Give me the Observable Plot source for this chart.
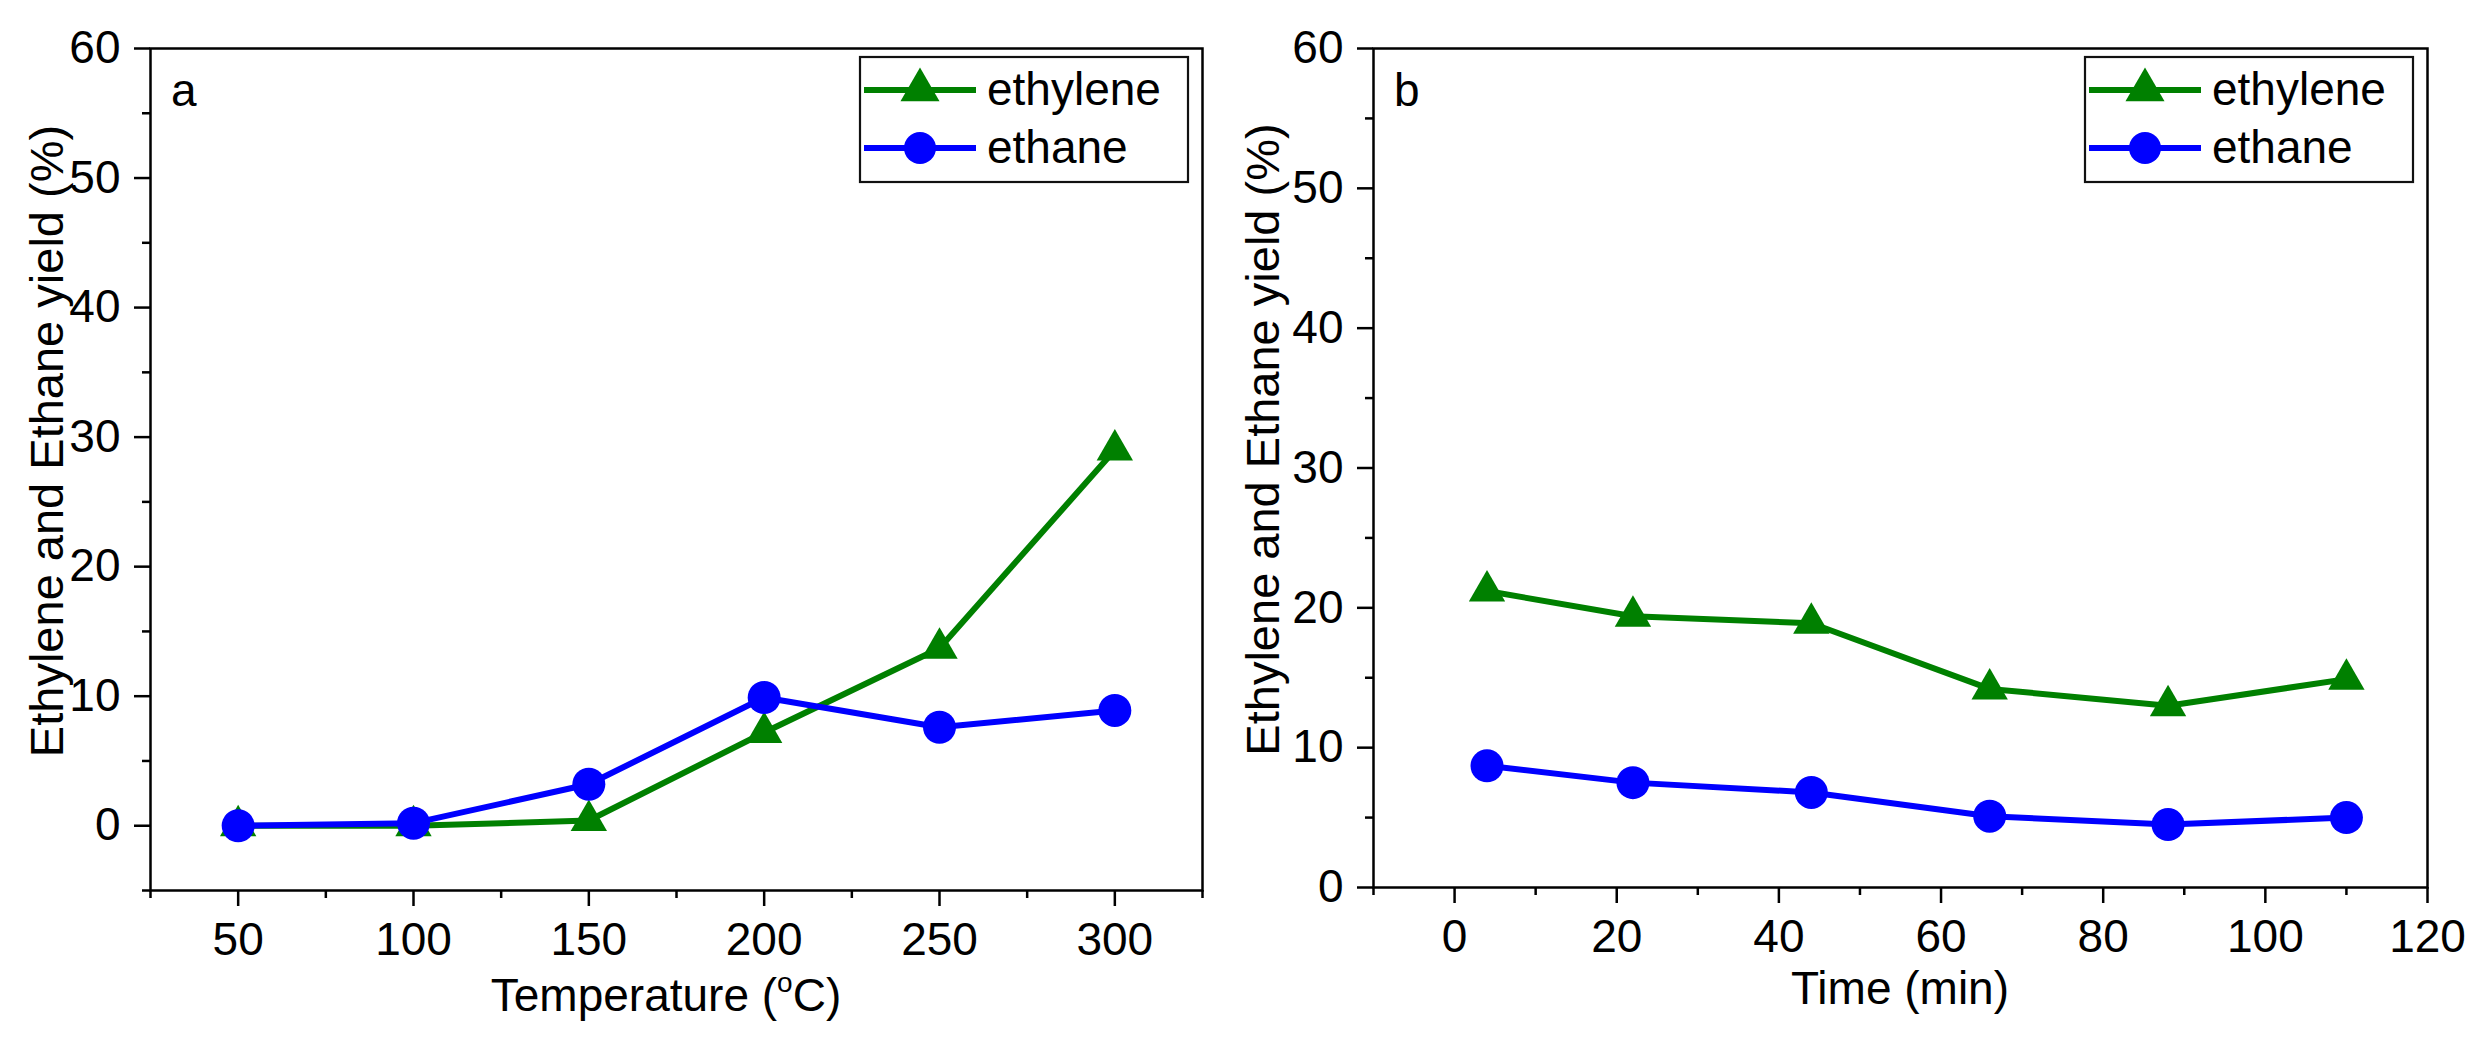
<!DOCTYPE html>
<html><head><meta charset="utf-8">
<script src="https://cdn.jsdelivr.net/npm/d3@7"></script>
<script src="https://cdn.jsdelivr.net/npm/@observablehq/plot@0.6"></script>
<style>
html,body{margin:0;padding:0;background:#fff;}
#wrap{position:relative;width:2479px;height:1043px;overflow:hidden;font-family:"Liberation Sans",Arial,sans-serif;}
#wrap svg{position:absolute;top:0;overflow:visible;}
</style></head><body><div id="wrap"></div>
<script>
// ---- data ----
const temperatureC   = [50, 100, 150, 200, 250, 300];
const ethyleneYieldA = [0, 0, 0.4, 7.2, 13.7, 29.0];
const ethaneYieldA   = [0, 0.2, 3.2, 9.9, 7.6, 8.9];
const timeMin        = [4, 22, 44, 66, 88, 110];
const ethyleneYieldB = [21.2, 19.4, 18.9, 14.2, 13.0, 14.9];
const ethaneYieldB   = [8.7, 7.5, 6.8, 5.1, 4.5, 5.0];
const seriesNames    = ["ethylene", "ethane"];
const seriesColors   = ["#008000", "#0000ff"];
const seriesSymbols  = ["triangle", "circle"];
const yTicks   = [0, 10, 20, 30, 40, 50, 60];
const yMinorA  = [-5, 5, 15, 25, 35, 45, 55];
const yMinorB  = [5, 15, 25, 35, 45, 55];
const xTicksA  = [50, 100, 150, 200, 250, 300];
const xMinorA  = [25, 75, 125, 175, 225, 275, 325];
const xTicksB  = [0, 20, 40, 60, 80, 100, 120];
const xMinorB  = [-10, 10, 30, 50, 70, 90, 110];
const yLabel   = "Ethylene and Ethane yield (%)";
const panelLetters = ["a", "b"];

const H = 1043, FS = 46, TOP = 48;
const wrap = document.getElementById("wrap");

function makePanel(cfg) {
  const rows = [];
  cfg.series.forEach((vals, si) => {
    cfg.x.forEach((xv, i) => rows.push({x: xv, y: vals[i], s: seriesNames[si]}));
  });
  const marks = [
    Plot.frame({stroke: "#000", strokeWidth: 2.5}),
    Plot.axisY({ticks: yTicks, tickSize: 16, tickPadding: 14, fontSize: FS, strokeWidth: 2.5, label: null, tickFormat: d => String(d)}),
    Plot.axisY({ticks: cfg.yMinor, tickSize: 8, strokeWidth: 2.5, label: null, tickFormat: () => ""}),
    Plot.axisX({ticks: cfg.xTicks, tickSize: 16, tickPadding: 16, fontSize: FS, strokeWidth: 2.5, label: null, tickFormat: d => String(d)}),
    Plot.axisX({ticks: cfg.xMinor, tickSize: 8, strokeWidth: 2.5, label: null, tickFormat: () => ""})
  ];
  seriesNames.forEach((name, si) => {
    const d = rows.filter(r => r.s === name);
    marks.push(Plot.line(d, {x: "x", y: "y", stroke: seriesColors[si], strokeWidth: 6}));
    marks.push(Plot.dot(d, {x: "x", y: "y", symbol: seriesSymbols[si], r: si === 0 ? 13.5 : 16.5, fill: seriesColors[si], stroke: "none"}));
  });
  const svg = Plot.plot({
    width: cfg.width, height: H,
    marginLeft: cfg.marginLeft, marginRight: cfg.marginRight, marginTop: TOP, marginBottom: cfg.marginBottom,
    x: {domain: cfg.xDomain}, y: {domain: cfg.yDomain},
    style: {fontFamily: '"Liberation Sans", Arial, sans-serif', fontSize: FS + "px", color: "#000", background: "transparent", overflow: "visible"},
    marks
  });
  svg.style.left = cfg.left + "px";
  wrap.appendChild(svg);

  const fl = cfg.marginLeft, fr = cfg.width - cfg.marginRight, fb = H - cfg.marginBottom;
  const g = d3.select(svg).append("g")
    .attr("font-family", '"Liberation Sans", Arial, sans-serif')
    .attr("font-size", FS).attr("fill", "#000").attr("text-anchor", "start");

  // panel letter
  g.append("text").attr("text-anchor", "start").attr("x", fl + 21).attr("y", 106).text(cfg.letter);

  // y label (rotated)
  g.append("text")
    .attr("transform", `translate(${cfg.yLabelX},${(TOP + fb) / 2 - 28}) rotate(-90)`)
    .attr("text-anchor", "middle").attr("font-size", 47).attr("dy", "0.358em").text(yLabel);

  // x title
  const t = g.append("text").attr("x", (fl + fr) / 2 + cfg.xTitleDx).attr("y", cfg.xTitleY).attr("text-anchor", "middle");
  cfg.xTitle.forEach(p => {
    const ts = t.append("tspan").text(p.t);
    if (p.sup) ts.attr("font-size", 28).attr("dy", -19);
    if (p.after) ts.attr("dy", 19);
  });

  // legend
  const bw = 328, bh = 125, bx = fr - 14 - bw, by = 57;
  const lg = g.append("g");
  lg.append("rect").attr("x", bx).attr("y", by).attr("width", bw).attr("height", bh)
    .attr("fill", "#fff").attr("stroke", "#111").attr("stroke-width", 2.2);
  const rowsY = [by + 33, by + 91];
  seriesNames.forEach((name, si) => {
    const yy = rowsY[si];
    lg.append("line").attr("x1", bx + 4).attr("x2", bx + 116).attr("y1", yy).attr("y2", yy)
      .attr("stroke", seriesColors[si]).attr("stroke-width", 6);
    const r = si === 0 ? 14.5 : 16;
    const sym = si === 0 ? d3.symbolTriangle : d3.symbolCircle;
    lg.append("path").attr("d", d3.symbol(sym, r * r * Math.PI)())
      .attr("transform", `translate(${bx + 60},${yy})`).attr("fill", seriesColors[si]);
    lg.append("text").attr("text-anchor", "start").attr("x", bx + 127).attr("y", yy + 15).text(name);
  });
}

makePanel({
  left: 0, width: 1240, marginLeft: 150, marginRight: 38, marginBottom: 153,
  x: temperatureC, series: [ethyleneYieldA, ethaneYieldA],
  xDomain: [25, 325], yDomain: [-5, 60],
  xTicks: xTicksA, xMinor: xMinorA, yMinor: yMinorA,
  letter: panelLetters[0], yLabelX: 46, xTitleY: 1011, xTitleDx: -10,
  xTitle: [{t: "Temperature ("}, {t: "o", sup: true}, {t: "C)", after: true}]
});
makePanel({
  left: 1240, width: 1239, marginLeft: 133, marginRight: 52, marginBottom: 156,
  x: timeMin, series: [ethyleneYieldB, ethaneYieldB],
  xDomain: [-10, 120], yDomain: [0, 60],
  xTicks: xTicksB, xMinor: xMinorB, yMinor: yMinorB,
  letter: panelLetters[1], yLabelX: 22, xTitleY: 1004, xTitleDx: 0,
  xTitle: [{t: "Time (min)"}]
});
</script></body></html>
